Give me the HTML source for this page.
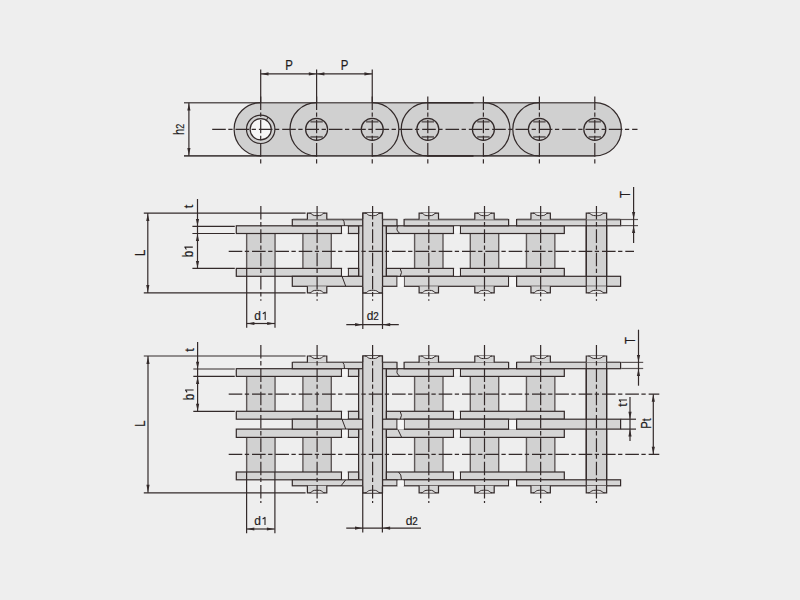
<!DOCTYPE html>
<html><head><meta charset="utf-8"><style>
html,body{margin:0;padding:0;background:#eeeeee;}
svg{display:block;}
text{font-family:"Liberation Sans",sans-serif;fill:#221c1c;stroke:#221c1c;stroke-width:0.2px;}
</style></head><body>
<svg width="800" height="600" viewBox="0 0 800 600">
<rect width="800" height="600" fill="#eeeeee"/>
<path d="M260.7,102.7 L594.8,102.7 A26.6,26.6 0 0 1 594.8,155.9 L260.7,155.9 A26.6,26.6 0 0 1 260.7,102.7 Z" fill="#d0d0d0" stroke="none" stroke-width="0"/>
<line x1="184" y1="102.7" x2="594.8" y2="102.7" stroke="#5e5858" stroke-width="1.6"/>
<line x1="184" y1="155.9" x2="594.8" y2="155.9" stroke="#4e4848" stroke-width="1.6"/>
<line x1="427.8" y1="102.7" x2="473.5" y2="102.7" stroke="#332a2a" stroke-width="1.6"/>
<line x1="427.8" y1="155.9" x2="473.5" y2="155.9" stroke="#332a2a" stroke-width="1.6"/>
<path d="M260.7,102.7 A26.6,26.6 0 0 0 260.7,155.9" fill="none" stroke="#332a2a" stroke-width="1.2"/>
<path d="M316.6,102.7 A26.6,26.6 0 0 0 316.6,155.9" fill="none" stroke="#332a2a" stroke-width="1.2"/>
<path d="M372.25,102.7 A26.6,26.6 0 0 1 372.25,155.9" fill="none" stroke="#332a2a" stroke-width="1.2"/>
<path d="M427.8,102.7 A26.6,26.6 0 0 0 427.8,155.9" fill="none" stroke="#332a2a" stroke-width="1.2"/>
<path d="M483.4,102.7 A26.6,26.6 0 0 1 483.4,155.9" fill="none" stroke="#332a2a" stroke-width="1.2"/>
<path d="M539.4,102.7 A26.6,26.6 0 0 0 539.4,155.9" fill="none" stroke="#332a2a" stroke-width="1.2"/>
<path d="M594.8,102.7 A26.6,26.6 0 0 1 594.8,155.9" fill="none" stroke="#332a2a" stroke-width="1.2"/>
<circle cx="260.7" cy="129.3" r="14.2" fill="#d0d0d0" stroke="#332a2a" stroke-width="1.2"/>
<circle cx="260.7" cy="129.3" r="10.6" fill="#f6f6f6" stroke="#332a2a" stroke-width="1.2"/>
<line x1="267.9" y1="117.1" x2="266.7" y2="119.9" stroke="#332a2a" stroke-width="1"/>
<line x1="310.4" y1="121.7" x2="322.8" y2="121.7" stroke="#6c6767" stroke-width="1.9"/>
<line x1="310.4" y1="136.9" x2="322.8" y2="136.9" stroke="#6c6767" stroke-width="1.9"/>
<circle cx="316.6" cy="129.3" r="11" fill="none" stroke="#332a2a" stroke-width="1.2"/>
<line x1="366.05" y1="121.7" x2="378.45" y2="121.7" stroke="#6c6767" stroke-width="1.9"/>
<line x1="366.05" y1="136.9" x2="378.45" y2="136.9" stroke="#6c6767" stroke-width="1.9"/>
<circle cx="372.25" cy="129.3" r="11" fill="none" stroke="#332a2a" stroke-width="1.2"/>
<line x1="421.6" y1="121.7" x2="434" y2="121.7" stroke="#6c6767" stroke-width="1.9"/>
<line x1="421.6" y1="136.9" x2="434" y2="136.9" stroke="#6c6767" stroke-width="1.9"/>
<circle cx="427.8" cy="129.3" r="11" fill="none" stroke="#332a2a" stroke-width="1.2"/>
<line x1="477.2" y1="121.7" x2="489.6" y2="121.7" stroke="#6c6767" stroke-width="1.9"/>
<line x1="477.2" y1="136.9" x2="489.6" y2="136.9" stroke="#6c6767" stroke-width="1.9"/>
<circle cx="483.4" cy="129.3" r="11" fill="none" stroke="#332a2a" stroke-width="1.2"/>
<line x1="533.2" y1="121.7" x2="545.6" y2="121.7" stroke="#6c6767" stroke-width="1.9"/>
<line x1="533.2" y1="136.9" x2="545.6" y2="136.9" stroke="#6c6767" stroke-width="1.9"/>
<circle cx="539.4" cy="129.3" r="11" fill="none" stroke="#332a2a" stroke-width="1.2"/>
<line x1="588.6" y1="121.7" x2="601" y2="121.7" stroke="#6c6767" stroke-width="1.9"/>
<line x1="588.6" y1="136.9" x2="601" y2="136.9" stroke="#6c6767" stroke-width="1.9"/>
<circle cx="594.8" cy="129.3" r="11" fill="none" stroke="#332a2a" stroke-width="1.2"/>
<line x1="212.2" y1="129.4" x2="637.5" y2="129.4" stroke="#332a2a" stroke-width="1.2" stroke-dasharray="13.6 2.5 4.3 2.93" stroke-dashoffset="0"/>
<line x1="260.7" y1="69.5" x2="260.7" y2="102.7" stroke="#332a2a" stroke-width="1.2"/>
<line x1="260.7" y1="96.4" x2="260.7" y2="163.8" stroke="#332a2a" stroke-width="1.2" stroke-dasharray="13.6 2.5 4.3 2.93" stroke-dashoffset="0"/>
<line x1="316.6" y1="69.5" x2="316.6" y2="102.7" stroke="#332a2a" stroke-width="1.2"/>
<line x1="316.6" y1="96.4" x2="316.6" y2="163.8" stroke="#332a2a" stroke-width="1.2" stroke-dasharray="13.6 2.5 4.3 2.93" stroke-dashoffset="0"/>
<line x1="372.25" y1="69.5" x2="372.25" y2="102.7" stroke="#332a2a" stroke-width="1.2"/>
<line x1="372.25" y1="96.4" x2="372.25" y2="163.8" stroke="#332a2a" stroke-width="1.2" stroke-dasharray="13.6 2.5 4.3 2.93" stroke-dashoffset="0"/>
<line x1="427.8" y1="96.4" x2="427.8" y2="163.8" stroke="#332a2a" stroke-width="1.2" stroke-dasharray="13.6 2.5 4.3 2.93" stroke-dashoffset="0"/>
<line x1="483.4" y1="96.4" x2="483.4" y2="163.8" stroke="#332a2a" stroke-width="1.2" stroke-dasharray="13.6 2.5 4.3 2.93" stroke-dashoffset="0"/>
<line x1="539.4" y1="96.4" x2="539.4" y2="163.8" stroke="#332a2a" stroke-width="1.2" stroke-dasharray="13.6 2.5 4.3 2.93" stroke-dashoffset="0"/>
<line x1="594.8" y1="96.4" x2="594.8" y2="163.8" stroke="#332a2a" stroke-width="1.2" stroke-dasharray="13.6 2.5 4.3 2.93" stroke-dashoffset="0"/>
<line x1="260.7" y1="73.9" x2="372.25" y2="73.9" stroke="#332a2a" stroke-width="1.2"/>
<polygon points="261.3,73.9 268.5,72.3 268.5,75.5" fill="#332a2a"/>
<polygon points="316,73.9 308.8,72.3 308.8,75.5" fill="#332a2a"/>
<polygon points="317.2,73.9 324.4,72.3 324.4,75.5" fill="#332a2a"/>
<polygon points="371.65,73.9 364.45,72.3 364.45,75.5" fill="#332a2a"/>
<line x1="188.9" y1="102.7" x2="188.9" y2="155.9" stroke="#332a2a" stroke-width="1.2"/>
<polygon points="188.9,103.4 187.3,110.6 190.5,110.6" fill="#332a2a"/>
<polygon points="188.9,155.2 187.3,148 190.5,148" fill="#332a2a"/>
<rect x="246.65" y="233.5" width="28.4" height="34.9" fill="#d1d1d1"/>
<line x1="246.65" y1="233.5" x2="246.65" y2="268.4" stroke="#5e5858" stroke-width="1.4"/>
<line x1="275.05" y1="233.5" x2="275.05" y2="268.4" stroke="#5e5858" stroke-width="1.4"/>
<rect x="302.9" y="233.5" width="28.4" height="34.9" fill="#d1d1d1"/>
<line x1="302.9" y1="233.5" x2="302.9" y2="268.4" stroke="#5e5858" stroke-width="1.4"/>
<line x1="331.3" y1="233.5" x2="331.3" y2="268.4" stroke="#5e5858" stroke-width="1.4"/>
<rect x="414.6" y="233.5" width="28.4" height="34.9" fill="#d1d1d1"/>
<line x1="414.6" y1="233.5" x2="414.6" y2="268.4" stroke="#5e5858" stroke-width="1.4"/>
<line x1="443" y1="233.5" x2="443" y2="268.4" stroke="#5e5858" stroke-width="1.4"/>
<rect x="470.3" y="233.5" width="28.4" height="34.9" fill="#d1d1d1"/>
<line x1="470.3" y1="233.5" x2="470.3" y2="268.4" stroke="#5e5858" stroke-width="1.4"/>
<line x1="498.7" y1="233.5" x2="498.7" y2="268.4" stroke="#5e5858" stroke-width="1.4"/>
<rect x="526.45" y="233.5" width="28.4" height="34.9" fill="#d1d1d1"/>
<line x1="526.45" y1="233.5" x2="526.45" y2="268.4" stroke="#5e5858" stroke-width="1.4"/>
<line x1="554.85" y1="233.5" x2="554.85" y2="268.4" stroke="#5e5858" stroke-width="1.4"/>
<rect x="358.6" y="225.8" width="27.8" height="50.5" fill="#d1d1d1"/>
<line x1="358.6" y1="225.8" x2="358.6" y2="276.3" stroke="#332a2a" stroke-width="1.2"/>
<line x1="386.4" y1="225.8" x2="386.4" y2="276.3" stroke="#332a2a" stroke-width="1.2"/>
<rect x="586.25" y="219.5" width="20.4" height="66.8" fill="#d1d1d1"/>
<line x1="586.25" y1="219.5" x2="586.25" y2="286.3" stroke="#332a2a" stroke-width="1.2"/>
<line x1="606.65" y1="219.5" x2="606.65" y2="286.3" stroke="#332a2a" stroke-width="1.2"/>
<rect x="236.3" y="225.8" width="105.2" height="7.7" fill="#d5d5d5" stroke="#332a2a" stroke-width="1.2"/>
<rect x="348.3" y="225.8" width="10.3" height="7.7" fill="#d5d5d5" stroke="#332a2a" stroke-width="1.2"/>
<rect x="386.4" y="225.8" width="67.1" height="7.7" fill="#d5d5d5" stroke="#332a2a" stroke-width="1.2"/>
<rect x="460.4" y="225.8" width="103.9" height="7.7" fill="#d5d5d5" stroke="#332a2a" stroke-width="1.2"/>
<rect x="236.3" y="268.4" width="105.2" height="7.9" fill="#d5d5d5" stroke="#332a2a" stroke-width="1.2"/>
<rect x="348.3" y="268.4" width="10.3" height="7.9" fill="#d5d5d5" stroke="#332a2a" stroke-width="1.2"/>
<rect x="386.4" y="268.4" width="67.1" height="7.9" fill="#d5d5d5" stroke="#332a2a" stroke-width="1.2"/>
<rect x="460.4" y="268.4" width="103.9" height="7.9" fill="#d5d5d5" stroke="#332a2a" stroke-width="1.2"/>
<rect x="292.3" y="219.5" width="70.5" height="6.3" fill="#d5d5d5" stroke="#332a2a" stroke-width="1.2"/>
<rect x="382.5" y="219.5" width="14.5" height="6.3" fill="#d5d5d5" stroke="#332a2a" stroke-width="1.2"/>
<rect x="404.1" y="219.5" width="104.5" height="6.3" fill="#d5d5d5" stroke="#332a2a" stroke-width="1.2"/>
<rect x="516.6" y="219.5" width="104" height="6.3" fill="#d5d5d5" stroke="#332a2a" stroke-width="1.2"/>
<rect x="292.3" y="276.3" width="70.5" height="10" fill="#d5d5d5" stroke="#332a2a" stroke-width="1.2"/>
<rect x="382.5" y="276.3" width="14.5" height="10" fill="#d5d5d5" stroke="#332a2a" stroke-width="1.2"/>
<rect x="404.1" y="276.3" width="104.5" height="10" fill="#d5d5d5" stroke="#332a2a" stroke-width="1.2"/>
<rect x="516.6" y="276.3" width="104" height="10" fill="#d5d5d5" stroke="#332a2a" stroke-width="1.2"/>
<line x1="586.25" y1="219.5" x2="586.25" y2="286.3" stroke="#332a2a" stroke-width="1.2"/>
<line x1="606.65" y1="219.5" x2="606.65" y2="286.3" stroke="#332a2a" stroke-width="1.2"/>
<line x1="292.9" y1="219.5" x2="362.2" y2="219.5" stroke="#5e5858" stroke-width="1.3"/>
<line x1="383.1" y1="219.5" x2="396.4" y2="219.5" stroke="#5e5858" stroke-width="1.3"/>
<line x1="404.7" y1="219.5" x2="508" y2="219.5" stroke="#5e5858" stroke-width="1.3"/>
<line x1="517.2" y1="219.5" x2="620" y2="219.5" stroke="#5e5858" stroke-width="1.3"/>
<path d="M342.75,219.5 Q344.5,220.7 344.5,225.8" fill="none" stroke="#332a2a" stroke-width="1"/>
<line x1="342" y1="276.3" x2="345.75" y2="286.3" stroke="#332a2a" stroke-width="1"/>
<path d="M398,225.8 Q395,230.25 400,233.5" fill="none" stroke="#332a2a" stroke-width="1"/>
<path d="M400.1,268.4 Q402.8,272.35 400.25,276.3" fill="none" stroke="#332a2a" stroke-width="1"/>
<rect x="342.1" y="226.4" width="5.6" height="6.5" fill="#f5f5f5"/>
<rect x="454.1" y="226.4" width="5.7" height="6.5" fill="#f5f5f5"/>
<rect x="342.1" y="269" width="5.6" height="6.7" fill="#f5f5f5"/>
<rect x="454.1" y="269" width="5.7" height="6.7" fill="#f5f5f5"/>
<rect x="397.6" y="277" width="6.3" height="9.8" fill="#f6f6f6"/>
<rect x="509.2" y="277" width="6.8" height="9.8" fill="#f6f6f6"/>
<rect x="362.8" y="213.1" width="19.7" height="79.8" fill="#d5d5d5" stroke="#332a2a" stroke-width="1.2"/>
<rect x="307.4" y="213.1" width="19.4" height="6.4" fill="#d5d5d5"/>
<path d="M307.4,219.5 L307.4,213.1 L326.8,213.1 L326.8,219.5" fill="none" stroke="#332a2a" stroke-width="1.2"/>
<path d="M309.6,213.1 C311.6,213.1 312,215.22 314.3,215.53 S319.9,215.53 319.9,215.53 C322.2,215.22 322.6,213.1 324.6,213.1" fill="#e3e3e3" stroke="#332a2a" stroke-width="1"/>
<rect x="307.4" y="286.3" width="19.4" height="6.6" fill="#d5d5d5"/>
<path d="M307.4,286.3 L307.4,292.9 L326.8,292.9 L326.8,286.3" fill="none" stroke="#332a2a" stroke-width="1.2"/>
<path d="M309.6,292.9 C311.6,292.9 312,290.77 314.3,290.47 S319.9,290.47 319.9,290.47 C322.2,290.77 322.6,292.9 324.6,292.9" fill="#e3e3e3" stroke="#332a2a" stroke-width="1"/>
<rect x="419.1" y="213.1" width="19.4" height="6.4" fill="#d5d5d5"/>
<path d="M419.1,219.5 L419.1,213.1 L438.5,213.1 L438.5,219.5" fill="none" stroke="#332a2a" stroke-width="1.2"/>
<path d="M421.3,213.1 C423.3,213.1 423.7,215.22 426,215.53 S431.6,215.53 431.6,215.53 C433.9,215.22 434.3,213.1 436.3,213.1" fill="#e3e3e3" stroke="#332a2a" stroke-width="1"/>
<rect x="419.1" y="286.3" width="19.4" height="6.6" fill="#d5d5d5"/>
<path d="M419.1,286.3 L419.1,292.9 L438.5,292.9 L438.5,286.3" fill="none" stroke="#332a2a" stroke-width="1.2"/>
<path d="M421.3,292.9 C423.3,292.9 423.7,290.77 426,290.47 S431.6,290.47 431.6,290.47 C433.9,290.77 434.3,292.9 436.3,292.9" fill="#e3e3e3" stroke="#332a2a" stroke-width="1"/>
<rect x="474.8" y="213.1" width="19.4" height="6.4" fill="#d5d5d5"/>
<path d="M474.8,219.5 L474.8,213.1 L494.2,213.1 L494.2,219.5" fill="none" stroke="#332a2a" stroke-width="1.2"/>
<path d="M477,213.1 C479,213.1 479.4,215.22 481.7,215.53 S487.3,215.53 487.3,215.53 C489.6,215.22 490,213.1 492,213.1" fill="#e3e3e3" stroke="#332a2a" stroke-width="1"/>
<rect x="474.8" y="286.3" width="19.4" height="6.6" fill="#d5d5d5"/>
<path d="M474.8,286.3 L474.8,292.9 L494.2,292.9 L494.2,286.3" fill="none" stroke="#332a2a" stroke-width="1.2"/>
<path d="M477,292.9 C479,292.9 479.4,290.77 481.7,290.47 S487.3,290.47 487.3,290.47 C489.6,290.77 490,292.9 492,292.9" fill="#e3e3e3" stroke="#332a2a" stroke-width="1"/>
<rect x="530.95" y="213.1" width="19.4" height="6.4" fill="#d5d5d5"/>
<path d="M530.95,219.5 L530.95,213.1 L550.35,213.1 L550.35,219.5" fill="none" stroke="#332a2a" stroke-width="1.2"/>
<path d="M533.15,213.1 C535.15,213.1 535.55,215.22 537.85,215.53 S543.45,215.53 543.45,215.53 C545.75,215.22 546.15,213.1 548.15,213.1" fill="#e3e3e3" stroke="#332a2a" stroke-width="1"/>
<rect x="530.95" y="286.3" width="19.4" height="6.6" fill="#d5d5d5"/>
<path d="M530.95,286.3 L530.95,292.9 L550.35,292.9 L550.35,286.3" fill="none" stroke="#332a2a" stroke-width="1.2"/>
<path d="M533.15,292.9 C535.15,292.9 535.55,290.77 537.85,290.47 S543.45,290.47 543.45,290.47 C545.75,290.77 546.15,292.9 548.15,292.9" fill="#e3e3e3" stroke="#332a2a" stroke-width="1"/>
<rect x="586.25" y="213.1" width="20.4" height="6.4" fill="#d5d5d5"/>
<path d="M586.25,219.5 L586.25,213.1 L606.65,213.1 L606.65,219.5" fill="none" stroke="#332a2a" stroke-width="1.2"/>
<path d="M588.45,213.1 C590.45,213.1 590.85,215.22 593.65,215.53 S599.25,215.53 599.25,215.53 C602.05,215.22 602.45,213.1 604.45,213.1" fill="#e3e3e3" stroke="#332a2a" stroke-width="1"/>
<rect x="586.25" y="286.3" width="20.4" height="6.6" fill="#d5d5d5"/>
<path d="M586.25,286.3 L586.25,292.9 L606.65,292.9 L606.65,286.3" fill="none" stroke="#332a2a" stroke-width="1.2"/>
<path d="M588.45,292.9 C590.45,292.9 590.85,290.77 593.65,290.47 S599.25,290.47 599.25,290.47 C602.05,290.77 602.45,292.9 604.45,292.9" fill="#e3e3e3" stroke="#332a2a" stroke-width="1"/>
<rect x="362.95" y="213.1" width="19.4" height="6.5" fill="#d5d5d5"/>
<path d="M362.95,219.6 L362.95,213.1 L382.35,213.1 L382.35,219.6" fill="none" stroke="#332a2a" stroke-width="1.2"/>
<path d="M365.15,213.1 C367.15,213.1 367.55,215.22 369.85,215.53 S375.45,215.53 375.45,215.53 C377.75,215.22 378.15,213.1 380.15,213.1" fill="#e3e3e3" stroke="#332a2a" stroke-width="1"/>
<rect x="362.95" y="286.4" width="19.4" height="6.5" fill="#d5d5d5"/>
<path d="M362.95,286.4 L362.95,292.9 L382.35,292.9 L382.35,286.4" fill="none" stroke="#332a2a" stroke-width="1.2"/>
<path d="M365.15,292.9 C367.15,292.9 367.55,290.77 369.85,290.47 S375.45,290.47 375.45,290.47 C377.75,290.77 378.15,292.9 380.15,292.9" fill="#e3e3e3" stroke="#332a2a" stroke-width="1"/>
<line x1="228.7" y1="251.3" x2="634" y2="251.3" stroke="#332a2a" stroke-width="1.2" stroke-dasharray="13.6 2.5 4.3 2.93" stroke-dashoffset="0"/>
<line x1="260.85" y1="206" x2="260.85" y2="300.8" stroke="#332a2a" stroke-width="1.2" stroke-dasharray="13.6 2.5 4.3 2.93" stroke-dashoffset="0"/>
<line x1="317.1" y1="206" x2="317.1" y2="300.8" stroke="#332a2a" stroke-width="1.2" stroke-dasharray="13.6 2.5 4.3 2.93" stroke-dashoffset="0"/>
<line x1="372.6" y1="206" x2="372.6" y2="300.8" stroke="#332a2a" stroke-width="1.2" stroke-dasharray="13.6 2.5 4.3 2.93" stroke-dashoffset="0"/>
<line x1="428.8" y1="206" x2="428.8" y2="300.8" stroke="#332a2a" stroke-width="1.2" stroke-dasharray="13.6 2.5 4.3 2.93" stroke-dashoffset="0"/>
<line x1="484.5" y1="206" x2="484.5" y2="300.8" stroke="#332a2a" stroke-width="1.2" stroke-dasharray="13.6 2.5 4.3 2.93" stroke-dashoffset="0"/>
<line x1="540.65" y1="206" x2="540.65" y2="300.8" stroke="#332a2a" stroke-width="1.2" stroke-dasharray="13.6 2.5 4.3 2.93" stroke-dashoffset="0"/>
<line x1="596.45" y1="206" x2="596.45" y2="300.8" stroke="#332a2a" stroke-width="1.2" stroke-dasharray="13.6 2.5 4.3 2.93" stroke-dashoffset="0"/>
<line x1="143.8" y1="213.1" x2="305.6" y2="213.1" stroke="#332a2a" stroke-width="1.2"/>
<line x1="143.8" y1="292.9" x2="305.6" y2="292.9" stroke="#332a2a" stroke-width="1.2"/>
<line x1="192.4" y1="226.3" x2="234.8" y2="226.3" stroke="#332a2a" stroke-width="1.2"/>
<line x1="192.4" y1="233.5" x2="234.8" y2="233.5" stroke="#332a2a" stroke-width="1.2"/>
<line x1="192.4" y1="268.4" x2="234.8" y2="268.4" stroke="#332a2a" stroke-width="1.2"/>
<line x1="147.8" y1="213.1" x2="147.8" y2="292.9" stroke="#332a2a" stroke-width="1.2"/>
<polygon points="147.8,213.9 146.2,221.1 149.4,221.1" fill="#332a2a"/>
<polygon points="147.8,292.1 146.2,284.9 149.4,284.9" fill="#332a2a"/>
<line x1="197.5" y1="199" x2="197.5" y2="268.4" stroke="#332a2a" stroke-width="1.2"/>
<polygon points="197.5,226.1 195.9,218.9 199.1,218.9" fill="#332a2a"/>
<polygon points="197.5,233.8 195.9,241 199.1,241" fill="#332a2a"/>
<polygon points="197.5,268.1 195.9,260.9 199.1,260.9" fill="#332a2a"/>
<line x1="246.7" y1="268.4" x2="246.7" y2="327.7" stroke="#332a2a" stroke-width="1.2"/>
<line x1="275" y1="268.4" x2="275" y2="327.7" stroke="#332a2a" stroke-width="1.2"/>
<line x1="246.6" y1="323.5" x2="275" y2="323.5" stroke="#332a2a" stroke-width="1.2"/>
<polygon points="247.2,323.5 254.4,321.9 254.4,325.1" fill="#332a2a"/>
<polygon points="274.4,323.5 267.2,321.9 267.2,325.1" fill="#332a2a"/>
<line x1="362.8" y1="292.9" x2="362.8" y2="329" stroke="#332a2a" stroke-width="1.2"/>
<line x1="382.5" y1="292.9" x2="382.5" y2="329" stroke="#332a2a" stroke-width="1.2"/>
<line x1="346.3" y1="324.7" x2="398.8" y2="324.7" stroke="#332a2a" stroke-width="1.2"/>
<polygon points="362.3,324.7 355.1,323.1 355.1,326.3" fill="#332a2a"/>
<polygon points="383,324.7 390.2,323.1 390.2,326.3" fill="#332a2a"/>
<line x1="620.6" y1="219.5" x2="638" y2="219.5" stroke="#5e5858" stroke-width="1.2"/>
<line x1="620.6" y1="225.6" x2="638" y2="225.6" stroke="#5e5858" stroke-width="1.2"/>
<line x1="633.6" y1="187" x2="633.6" y2="243" stroke="#332a2a" stroke-width="1.2"/>
<polygon points="633.6,219.2 632,212 635.2,212" fill="#332a2a"/>
<polygon points="633.6,225.8 632,233 635.2,233" fill="#332a2a"/>
<rect x="246.65" y="376.4" width="28.4" height="34.9" fill="#d1d1d1"/>
<line x1="246.65" y1="376.4" x2="246.65" y2="411.3" stroke="#5e5858" stroke-width="1.4"/>
<line x1="275.05" y1="376.4" x2="275.05" y2="411.3" stroke="#5e5858" stroke-width="1.4"/>
<rect x="302.9" y="376.4" width="28.4" height="34.9" fill="#d1d1d1"/>
<line x1="302.9" y1="376.4" x2="302.9" y2="411.3" stroke="#5e5858" stroke-width="1.4"/>
<line x1="331.3" y1="376.4" x2="331.3" y2="411.3" stroke="#5e5858" stroke-width="1.4"/>
<rect x="414.6" y="376.4" width="28.4" height="34.9" fill="#d1d1d1"/>
<line x1="414.6" y1="376.4" x2="414.6" y2="411.3" stroke="#5e5858" stroke-width="1.4"/>
<line x1="443" y1="376.4" x2="443" y2="411.3" stroke="#5e5858" stroke-width="1.4"/>
<rect x="470.3" y="376.4" width="28.4" height="34.9" fill="#d1d1d1"/>
<line x1="470.3" y1="376.4" x2="470.3" y2="411.3" stroke="#5e5858" stroke-width="1.4"/>
<line x1="498.7" y1="376.4" x2="498.7" y2="411.3" stroke="#5e5858" stroke-width="1.4"/>
<rect x="526.45" y="376.4" width="28.4" height="34.9" fill="#d1d1d1"/>
<line x1="526.45" y1="376.4" x2="526.45" y2="411.3" stroke="#5e5858" stroke-width="1.4"/>
<line x1="554.85" y1="376.4" x2="554.85" y2="411.3" stroke="#5e5858" stroke-width="1.4"/>
<rect x="246.65" y="437.4" width="28.4" height="34.6" fill="#d1d1d1"/>
<line x1="246.65" y1="437.4" x2="246.65" y2="472" stroke="#5e5858" stroke-width="1.4"/>
<line x1="275.05" y1="437.4" x2="275.05" y2="472" stroke="#5e5858" stroke-width="1.4"/>
<rect x="302.9" y="437.4" width="28.4" height="34.6" fill="#d1d1d1"/>
<line x1="302.9" y1="437.4" x2="302.9" y2="472" stroke="#5e5858" stroke-width="1.4"/>
<line x1="331.3" y1="437.4" x2="331.3" y2="472" stroke="#5e5858" stroke-width="1.4"/>
<rect x="414.6" y="437.4" width="28.4" height="34.6" fill="#d1d1d1"/>
<line x1="414.6" y1="437.4" x2="414.6" y2="472" stroke="#5e5858" stroke-width="1.4"/>
<line x1="443" y1="437.4" x2="443" y2="472" stroke="#5e5858" stroke-width="1.4"/>
<rect x="470.3" y="437.4" width="28.4" height="34.6" fill="#d1d1d1"/>
<line x1="470.3" y1="437.4" x2="470.3" y2="472" stroke="#5e5858" stroke-width="1.4"/>
<line x1="498.7" y1="437.4" x2="498.7" y2="472" stroke="#5e5858" stroke-width="1.4"/>
<rect x="526.45" y="437.4" width="28.4" height="34.6" fill="#d1d1d1"/>
<line x1="526.45" y1="437.4" x2="526.45" y2="472" stroke="#5e5858" stroke-width="1.4"/>
<line x1="554.85" y1="437.4" x2="554.85" y2="472" stroke="#5e5858" stroke-width="1.4"/>
<rect x="358.6" y="368.7" width="27.8" height="111.1" fill="#d1d1d1"/>
<line x1="358.6" y1="368.7" x2="358.6" y2="479.8" stroke="#332a2a" stroke-width="1.2"/>
<line x1="386.4" y1="368.7" x2="386.4" y2="479.8" stroke="#332a2a" stroke-width="1.2"/>
<rect x="586.25" y="362.4" width="20.4" height="123.4" fill="#d1d1d1"/>
<line x1="586.25" y1="362.4" x2="586.25" y2="485.8" stroke="#332a2a" stroke-width="1.2"/>
<line x1="606.65" y1="362.4" x2="606.65" y2="485.8" stroke="#332a2a" stroke-width="1.2"/>
<rect x="236.3" y="368.7" width="105.2" height="7.7" fill="#d5d5d5" stroke="#332a2a" stroke-width="1.2"/>
<rect x="348.3" y="368.7" width="10.3" height="7.7" fill="#d5d5d5" stroke="#332a2a" stroke-width="1.2"/>
<rect x="386.4" y="368.7" width="67.1" height="7.7" fill="#d5d5d5" stroke="#332a2a" stroke-width="1.2"/>
<rect x="460.4" y="368.7" width="103.9" height="7.7" fill="#d5d5d5" stroke="#332a2a" stroke-width="1.2"/>
<rect x="236.3" y="411.3" width="105.2" height="7.9" fill="#d5d5d5" stroke="#332a2a" stroke-width="1.2"/>
<rect x="348.3" y="411.3" width="10.3" height="7.9" fill="#d5d5d5" stroke="#332a2a" stroke-width="1.2"/>
<rect x="386.4" y="411.3" width="67.1" height="7.9" fill="#d5d5d5" stroke="#332a2a" stroke-width="1.2"/>
<rect x="460.4" y="411.3" width="103.9" height="7.9" fill="#d5d5d5" stroke="#332a2a" stroke-width="1.2"/>
<rect x="236.3" y="429.1" width="105.2" height="8.3" fill="#d5d5d5" stroke="#332a2a" stroke-width="1.2"/>
<rect x="348.3" y="429.1" width="10.3" height="8.3" fill="#d5d5d5" stroke="#332a2a" stroke-width="1.2"/>
<rect x="386.4" y="429.1" width="67.1" height="8.3" fill="#d5d5d5" stroke="#332a2a" stroke-width="1.2"/>
<rect x="460.4" y="429.1" width="103.9" height="8.3" fill="#d5d5d5" stroke="#332a2a" stroke-width="1.2"/>
<rect x="236.3" y="472" width="105.2" height="7.8" fill="#d5d5d5" stroke="#332a2a" stroke-width="1.2"/>
<rect x="348.3" y="472" width="10.3" height="7.8" fill="#d5d5d5" stroke="#332a2a" stroke-width="1.2"/>
<rect x="386.4" y="472" width="67.1" height="7.8" fill="#d5d5d5" stroke="#332a2a" stroke-width="1.2"/>
<rect x="460.4" y="472" width="103.9" height="7.8" fill="#d5d5d5" stroke="#332a2a" stroke-width="1.2"/>
<rect x="292.3" y="362.4" width="70.5" height="6.3" fill="#d5d5d5" stroke="#332a2a" stroke-width="1.2"/>
<rect x="382.5" y="362.4" width="14.5" height="6.3" fill="#d5d5d5" stroke="#332a2a" stroke-width="1.2"/>
<rect x="404.1" y="362.4" width="104.5" height="6.3" fill="#d5d5d5" stroke="#332a2a" stroke-width="1.2"/>
<rect x="516.6" y="362.4" width="104" height="6.3" fill="#d5d5d5" stroke="#332a2a" stroke-width="1.2"/>
<rect x="292.3" y="419.2" width="70.5" height="9.9" fill="#d5d5d5" stroke="#332a2a" stroke-width="1.2"/>
<rect x="382.5" y="419.2" width="14.5" height="9.9" fill="#d5d5d5" stroke="#332a2a" stroke-width="1.2"/>
<rect x="404.1" y="419.2" width="104.5" height="9.9" fill="#d5d5d5" stroke="#332a2a" stroke-width="1.2"/>
<rect x="516.6" y="419.2" width="104" height="9.9" fill="#d5d5d5" stroke="#332a2a" stroke-width="1.2"/>
<rect x="292.3" y="479.8" width="70.5" height="6" fill="#d5d5d5" stroke="#332a2a" stroke-width="1.2"/>
<rect x="382.5" y="479.8" width="14.5" height="6" fill="#d5d5d5" stroke="#332a2a" stroke-width="1.2"/>
<rect x="404.1" y="479.8" width="104.5" height="6" fill="#d5d5d5" stroke="#332a2a" stroke-width="1.2"/>
<rect x="516.6" y="479.8" width="104" height="6" fill="#d5d5d5" stroke="#332a2a" stroke-width="1.2"/>
<line x1="586.25" y1="362.4" x2="586.25" y2="485.8" stroke="#332a2a" stroke-width="1.2"/>
<line x1="606.65" y1="362.4" x2="606.65" y2="485.8" stroke="#332a2a" stroke-width="1.2"/>
<line x1="292.9" y1="362.4" x2="362.2" y2="362.4" stroke="#5e5858" stroke-width="1.3"/>
<line x1="383.1" y1="362.4" x2="396.4" y2="362.4" stroke="#5e5858" stroke-width="1.3"/>
<line x1="404.7" y1="362.4" x2="508" y2="362.4" stroke="#5e5858" stroke-width="1.3"/>
<line x1="517.2" y1="362.4" x2="620" y2="362.4" stroke="#5e5858" stroke-width="1.3"/>
<path d="M342.75,362.4 Q344.5,363.6 344.5,368.7" fill="none" stroke="#332a2a" stroke-width="1"/>
<line x1="342" y1="419.2" x2="345.75" y2="429.1" stroke="#332a2a" stroke-width="1"/>
<line x1="345.75" y1="479.8" x2="341" y2="485.8" stroke="#332a2a" stroke-width="1"/>
<path d="M398,368.7 Q395,373.15 400,376.4" fill="none" stroke="#332a2a" stroke-width="1"/>
<path d="M400.1,411.3 Q402.8,415.25 400.25,419.2" fill="none" stroke="#332a2a" stroke-width="1"/>
<line x1="397.7" y1="429.1" x2="401.7" y2="437.4" stroke="#332a2a" stroke-width="1"/>
<path d="M398.5,472 Q401.5,474 401.5,479.8" fill="none" stroke="#332a2a" stroke-width="1"/>
<rect x="342.1" y="369.3" width="5.6" height="6.5" fill="#f5f5f5"/>
<rect x="454.1" y="369.3" width="5.7" height="6.5" fill="#f5f5f5"/>
<rect x="342.1" y="411.9" width="5.6" height="6.7" fill="#f5f5f5"/>
<rect x="454.1" y="411.9" width="5.7" height="6.7" fill="#f5f5f5"/>
<rect x="342.1" y="429.7" width="5.6" height="7.1" fill="#f5f5f5"/>
<rect x="454.1" y="429.7" width="5.7" height="7.1" fill="#f5f5f5"/>
<rect x="342.1" y="472.6" width="5.6" height="6.6" fill="#f5f5f5"/>
<rect x="454.1" y="472.6" width="5.7" height="6.6" fill="#f5f5f5"/>
<rect x="397.6" y="419.9" width="6.3" height="9.7" fill="#f6f6f6"/>
<rect x="509.2" y="419.9" width="6.8" height="9.7" fill="#f6f6f6"/>
<rect x="397.6" y="480.5" width="6.3" height="5.8" fill="#f6f6f6"/>
<rect x="509.2" y="480.5" width="6.8" height="5.8" fill="#f6f6f6"/>
<rect x="362.8" y="356" width="19.7" height="136.8" fill="#d5d5d5" stroke="#332a2a" stroke-width="1.2"/>
<rect x="307.4" y="356" width="19.4" height="6.4" fill="#d5d5d5"/>
<path d="M307.4,362.4 L307.4,356 L326.8,356 L326.8,362.4" fill="none" stroke="#332a2a" stroke-width="1.2"/>
<path d="M309.6,356 C311.6,356 312,358.12 314.3,358.43 S319.9,358.43 319.9,358.43 C322.2,358.12 322.6,356 324.6,356" fill="#e3e3e3" stroke="#332a2a" stroke-width="1"/>
<rect x="307.4" y="485.8" width="19.4" height="7" fill="#d5d5d5"/>
<path d="M307.4,485.8 L307.4,492.8 L326.8,492.8 L326.8,485.8" fill="none" stroke="#332a2a" stroke-width="1.2"/>
<path d="M309.6,492.8 C311.6,492.8 312,490.68 314.3,490.38 S319.9,490.38 319.9,490.38 C322.2,490.68 322.6,492.8 324.6,492.8" fill="#e3e3e3" stroke="#332a2a" stroke-width="1"/>
<rect x="419.1" y="356" width="19.4" height="6.4" fill="#d5d5d5"/>
<path d="M419.1,362.4 L419.1,356 L438.5,356 L438.5,362.4" fill="none" stroke="#332a2a" stroke-width="1.2"/>
<path d="M421.3,356 C423.3,356 423.7,358.12 426,358.43 S431.6,358.43 431.6,358.43 C433.9,358.12 434.3,356 436.3,356" fill="#e3e3e3" stroke="#332a2a" stroke-width="1"/>
<rect x="419.1" y="485.8" width="19.4" height="7" fill="#d5d5d5"/>
<path d="M419.1,485.8 L419.1,492.8 L438.5,492.8 L438.5,485.8" fill="none" stroke="#332a2a" stroke-width="1.2"/>
<path d="M421.3,492.8 C423.3,492.8 423.7,490.68 426,490.38 S431.6,490.38 431.6,490.38 C433.9,490.68 434.3,492.8 436.3,492.8" fill="#e3e3e3" stroke="#332a2a" stroke-width="1"/>
<rect x="474.8" y="356" width="19.4" height="6.4" fill="#d5d5d5"/>
<path d="M474.8,362.4 L474.8,356 L494.2,356 L494.2,362.4" fill="none" stroke="#332a2a" stroke-width="1.2"/>
<path d="M477,356 C479,356 479.4,358.12 481.7,358.43 S487.3,358.43 487.3,358.43 C489.6,358.12 490,356 492,356" fill="#e3e3e3" stroke="#332a2a" stroke-width="1"/>
<rect x="474.8" y="485.8" width="19.4" height="7" fill="#d5d5d5"/>
<path d="M474.8,485.8 L474.8,492.8 L494.2,492.8 L494.2,485.8" fill="none" stroke="#332a2a" stroke-width="1.2"/>
<path d="M477,492.8 C479,492.8 479.4,490.68 481.7,490.38 S487.3,490.38 487.3,490.38 C489.6,490.68 490,492.8 492,492.8" fill="#e3e3e3" stroke="#332a2a" stroke-width="1"/>
<rect x="530.95" y="356" width="19.4" height="6.4" fill="#d5d5d5"/>
<path d="M530.95,362.4 L530.95,356 L550.35,356 L550.35,362.4" fill="none" stroke="#332a2a" stroke-width="1.2"/>
<path d="M533.15,356 C535.15,356 535.55,358.12 537.85,358.43 S543.45,358.43 543.45,358.43 C545.75,358.12 546.15,356 548.15,356" fill="#e3e3e3" stroke="#332a2a" stroke-width="1"/>
<rect x="530.95" y="485.8" width="19.4" height="7" fill="#d5d5d5"/>
<path d="M530.95,485.8 L530.95,492.8 L550.35,492.8 L550.35,485.8" fill="none" stroke="#332a2a" stroke-width="1.2"/>
<path d="M533.15,492.8 C535.15,492.8 535.55,490.68 537.85,490.38 S543.45,490.38 543.45,490.38 C545.75,490.68 546.15,492.8 548.15,492.8" fill="#e3e3e3" stroke="#332a2a" stroke-width="1"/>
<rect x="586.25" y="356" width="20.4" height="6.4" fill="#d5d5d5"/>
<path d="M586.25,362.4 L586.25,356 L606.65,356 L606.65,362.4" fill="none" stroke="#332a2a" stroke-width="1.2"/>
<path d="M588.45,356 C590.45,356 590.85,358.12 593.65,358.43 S599.25,358.43 599.25,358.43 C602.05,358.12 602.45,356 604.45,356" fill="#e3e3e3" stroke="#332a2a" stroke-width="1"/>
<rect x="586.25" y="485.8" width="20.4" height="7" fill="#d5d5d5"/>
<path d="M586.25,485.8 L586.25,492.8 L606.65,492.8 L606.65,485.8" fill="none" stroke="#332a2a" stroke-width="1.2"/>
<path d="M588.45,492.8 C590.45,492.8 590.85,490.68 593.65,490.38 S599.25,490.38 599.25,490.38 C602.05,490.68 602.45,492.8 604.45,492.8" fill="#e3e3e3" stroke="#332a2a" stroke-width="1"/>
<rect x="362.95" y="356" width="19.4" height="6.5" fill="#d5d5d5"/>
<path d="M362.95,362.5 L362.95,356 L382.35,356 L382.35,362.5" fill="none" stroke="#332a2a" stroke-width="1.2"/>
<path d="M365.15,356 C367.15,356 367.55,358.12 369.85,358.43 S375.45,358.43 375.45,358.43 C377.75,358.12 378.15,356 380.15,356" fill="#e3e3e3" stroke="#332a2a" stroke-width="1"/>
<rect x="362.95" y="486.3" width="19.4" height="6.5" fill="#d5d5d5"/>
<path d="M362.95,486.3 L362.95,492.8 L382.35,492.8 L382.35,486.3" fill="none" stroke="#332a2a" stroke-width="1.2"/>
<path d="M365.15,492.8 C367.15,492.8 367.55,490.68 369.85,490.38 S375.45,490.38 375.45,490.38 C377.75,490.68 378.15,492.8 380.15,492.8" fill="#e3e3e3" stroke="#332a2a" stroke-width="1"/>
<line x1="228.7" y1="394.2" x2="659.3" y2="394.2" stroke="#332a2a" stroke-width="1.2" stroke-dasharray="13.6 2.5 4.3 2.93" stroke-dashoffset="0"/>
<line x1="228.7" y1="454.3" x2="659.3" y2="454.3" stroke="#332a2a" stroke-width="1.2" stroke-dasharray="13.6 2.5 4.3 2.93" stroke-dashoffset="0"/>
<line x1="260.85" y1="345" x2="260.85" y2="503" stroke="#332a2a" stroke-width="1.2" stroke-dasharray="13.6 2.5 4.3 2.93" stroke-dashoffset="0"/>
<line x1="317.1" y1="345" x2="317.1" y2="503" stroke="#332a2a" stroke-width="1.2" stroke-dasharray="13.6 2.5 4.3 2.93" stroke-dashoffset="0"/>
<line x1="372.6" y1="345" x2="372.6" y2="503" stroke="#332a2a" stroke-width="1.2" stroke-dasharray="13.6 2.5 4.3 2.93" stroke-dashoffset="0"/>
<line x1="428.8" y1="345" x2="428.8" y2="503" stroke="#332a2a" stroke-width="1.2" stroke-dasharray="13.6 2.5 4.3 2.93" stroke-dashoffset="0"/>
<line x1="484.5" y1="345" x2="484.5" y2="503" stroke="#332a2a" stroke-width="1.2" stroke-dasharray="13.6 2.5 4.3 2.93" stroke-dashoffset="0"/>
<line x1="540.65" y1="345" x2="540.65" y2="503" stroke="#332a2a" stroke-width="1.2" stroke-dasharray="13.6 2.5 4.3 2.93" stroke-dashoffset="0"/>
<line x1="596.45" y1="345" x2="596.45" y2="503" stroke="#332a2a" stroke-width="1.2" stroke-dasharray="13.6 2.5 4.3 2.93" stroke-dashoffset="0"/>
<line x1="143.8" y1="356" x2="305.6" y2="356" stroke="#332a2a" stroke-width="1.2"/>
<line x1="143.8" y1="492.8" x2="305.6" y2="492.8" stroke="#332a2a" stroke-width="1.2"/>
<line x1="193.3" y1="369" x2="234.8" y2="369" stroke="#332a2a" stroke-width="1.2"/>
<line x1="193.3" y1="376.4" x2="234.8" y2="376.4" stroke="#332a2a" stroke-width="1.2"/>
<line x1="193.3" y1="411.3" x2="234.8" y2="411.3" stroke="#332a2a" stroke-width="1.2"/>
<line x1="148" y1="356" x2="148" y2="492.8" stroke="#332a2a" stroke-width="1.2"/>
<polygon points="148,356.8 146.4,364 149.6,364" fill="#332a2a"/>
<polygon points="148,492 146.4,484.8 149.6,484.8" fill="#332a2a"/>
<line x1="197.6" y1="342" x2="197.6" y2="411.3" stroke="#332a2a" stroke-width="1.2"/>
<polygon points="197.6,369 196,361.8 199.2,361.8" fill="#332a2a"/>
<polygon points="197.6,376.7 196,383.9 199.2,383.9" fill="#332a2a"/>
<polygon points="197.6,411 196,403.8 199.2,403.8" fill="#332a2a"/>
<line x1="246.6" y1="472" x2="246.6" y2="533.3" stroke="#332a2a" stroke-width="1.2"/>
<line x1="274.9" y1="472" x2="274.9" y2="533.3" stroke="#332a2a" stroke-width="1.2"/>
<line x1="246.5" y1="529" x2="274.7" y2="529" stroke="#332a2a" stroke-width="1.2"/>
<polygon points="247.1,529 254.3,527.4 254.3,530.6" fill="#332a2a"/>
<polygon points="274.1,529 266.9,527.4 266.9,530.6" fill="#332a2a"/>
<line x1="362.75" y1="492.8" x2="362.75" y2="532.5" stroke="#332a2a" stroke-width="1.2"/>
<line x1="382.4" y1="492.8" x2="382.4" y2="532.5" stroke="#332a2a" stroke-width="1.2"/>
<line x1="346.25" y1="528.1" x2="421" y2="528.1" stroke="#332a2a" stroke-width="1.2"/>
<polygon points="362.2,528.1 355,526.5 355,529.7" fill="#332a2a"/>
<polygon points="382.9,528.1 390.1,526.5 390.1,529.7" fill="#332a2a"/>
<line x1="621.2" y1="362.4" x2="643.2" y2="362.4" stroke="#5e5858" stroke-width="1.2"/>
<line x1="621.2" y1="368.5" x2="643.2" y2="368.5" stroke="#5e5858" stroke-width="1.2"/>
<line x1="638.5" y1="329.7" x2="638.5" y2="385.7" stroke="#332a2a" stroke-width="1.2"/>
<polygon points="638.5,362.1 636.9,354.9 640.1,354.9" fill="#332a2a"/>
<polygon points="638.5,368.7 636.9,375.9 640.1,375.9" fill="#332a2a"/>
<line x1="620.7" y1="419.2" x2="636" y2="419.2" stroke="#332a2a" stroke-width="1.2"/>
<line x1="620.7" y1="429.1" x2="636" y2="429.1" stroke="#332a2a" stroke-width="1.2"/>
<line x1="630" y1="397" x2="630" y2="441" stroke="#332a2a" stroke-width="1.2"/>
<polygon points="630,418.9 628.4,411.7 631.6,411.7" fill="#332a2a"/>
<polygon points="630,429.4 628.4,436.6 631.6,436.6" fill="#332a2a"/>
<line x1="653.3" y1="394.3" x2="653.3" y2="454.3" stroke="#332a2a" stroke-width="1.2"/>
<polygon points="653.3,394.6 651.7,401.8 654.9,401.8" fill="#332a2a"/>
<polygon points="653.3,454 651.7,446.8 654.9,446.8" fill="#332a2a"/>
<g>
<text x="0" y="0" font-size="14.3" text-anchor="middle" transform="translate(289 69.8) scale(0.8 1)">P</text>
<text x="0" y="0" font-size="14.3" text-anchor="middle" transform="translate(344.5 69.8) scale(0.8 1)">P</text>
<text x="0" y="0" font-size="13.9" text-anchor="middle" transform="translate(183.8 129.4) rotate(-90) scale(0.8 1)">h<tspan font-size="11.2">2</tspan></text>
<text x="0" y="0" font-size="14.3" text-anchor="middle" transform="translate(144.6 252.8) rotate(-90) scale(0.8 1)">L</text>
<text x="0" y="0" font-size="12.6" text-anchor="middle" transform="translate(193 206.6) rotate(-90) scale(1.0 1)">t</text>
<text x="0" y="0" font-size="14.3" text-anchor="middle" transform="translate(193.4 251.5) rotate(-90) scale(0.8 1)">b<tspan font-size="11.2" style="fill:none;stroke:none">1</tspan></text>
<text x="0" y="0" font-size="13.6" text-anchor="middle" transform="translate(260.3 320) scale(0.88 1)">d<tspan font-size="11.2" style="fill:none;stroke:none">1</tspan></text>
<text x="0" y="0" font-size="13.6" text-anchor="middle" transform="translate(372.7 320.2) scale(0.88 1)">d<tspan font-size="11.2">2</tspan></text>
<text x="0" y="0" font-size="14.3" text-anchor="middle" transform="translate(630.2 194.5) rotate(-90) scale(0.8 1)">T</text>
<text x="0" y="0" font-size="14.3" text-anchor="middle" transform="translate(144.6 423.5) rotate(-90) scale(0.8 1)">L</text>
<text x="0" y="0" font-size="12.6" text-anchor="middle" transform="translate(193.8 349.9) rotate(-90) scale(1.0 1)">t</text>
<text x="0" y="0" font-size="14.3" text-anchor="middle" transform="translate(193.8 394.5) rotate(-90) scale(0.8 1)">b<tspan font-size="11.2" style="fill:none;stroke:none">1</tspan></text>
<text x="0" y="0" font-size="13.6" text-anchor="middle" transform="translate(260.2 524.9) scale(0.88 1)">d<tspan font-size="11.2" style="fill:none;stroke:none">1</tspan></text>
<text x="0" y="0" font-size="13.6" text-anchor="middle" transform="translate(411.7 525) scale(0.88 1)">d<tspan font-size="11.2">2</tspan></text>
<text x="0" y="0" font-size="14.3" text-anchor="middle" transform="translate(635 340.5) rotate(-90) scale(0.8 1)">T</text>
<text x="0" y="0" font-size="12.6" text-anchor="middle" transform="translate(627 401.8) rotate(-90) scale(1.0 1)">t<tspan font-size="11.2" style="fill:none;stroke:none">1</tspan></text>
<text x="0" y="0" font-size="14.3" text-anchor="middle" transform="translate(651.3 423.5) rotate(-90) scale(0.8 1)">P<tspan font-size="13">t</tspan></text>
<path d="M265.2,311.8 L265.2,320 M265.5,312 L262.8,313.8" stroke="#221c1c" stroke-width="1.05" fill="none" stroke-linecap="butt"/>
<path d="M265,517 L265,524.9 M265.3,517.2 L262.6,519" stroke="#221c1c" stroke-width="1.05" fill="none" stroke-linecap="butt"/>
<path d="M184.4,247.1 L192.8,247.1 M184.6,246.8 L186.4,249.5" stroke="#221c1c" stroke-width="1.05" fill="none" stroke-linecap="butt"/>
<path d="M185.1,390 L193.6,390 M185.3,389.7 L187.1,392.4" stroke="#221c1c" stroke-width="1.05" fill="none" stroke-linecap="butt"/>
<path d="M618.9,399.9 L626.9,399.9 M619.1,399.6 L620.9,402.3" stroke="#221c1c" stroke-width="1.05" fill="none" stroke-linecap="butt"/>
</g>
</svg>
</body></html>
